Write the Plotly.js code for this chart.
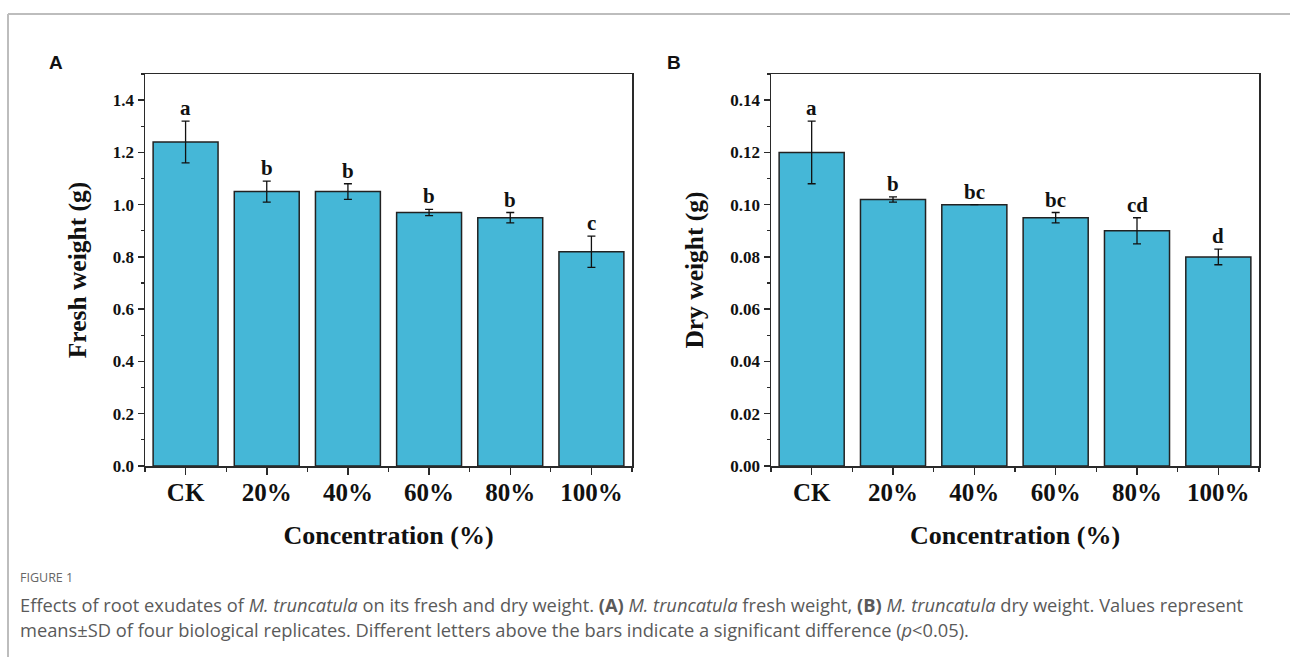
<!DOCTYPE html>
<html>
<head>
<meta charset="utf-8">
<script src="https://cdn.plot.ly/plotly-3.0.1.min.js"></script>
<style>html,body{margin:0;padding:0;background:#fff;}#chart{width:1290px;height:657px;}</style>
</head>
<body>
<div id="chart"></div>
<script>
const categories = ["CK", "20%", "40%", "60%", "80%", "100%"];
const freshMean = [1.24, 1.05, 1.05, 0.97, 0.95, 0.82];
const freshSD = [0.08, 0.04, 0.03, 0.012, 0.02, 0.06];
const freshLetters = ["a", "b", "b", "b", "b", "c"];
const dryMean = [0.120, 0.102, 0.100, 0.095, 0.090, 0.080];
const drySD = [0.012, 0.001, 0.0, 0.002, 0.005, 0.003];
const dryLetters = ["a", "b", "bc", "bc", "cd", "d"];
const freshTicks = [0.0, 0.2, 0.4, 0.6, 0.8, 1.0, 1.2, 1.4];
const dryTicks = [0.00, 0.02, 0.04, 0.06, 0.08, 0.10, 0.12, 0.14];

const xIdx = categories.map((c, i) => i);
const serif = "Liberation Serif, Times New Roman, serif";
const barColor = "#45B7D7";
const axisColor = "#2a2a2a";

function barTrace(y, sd, xa, ya) {
  return {
    type: "bar", x: xIdx, y: y, xaxis: xa, yaxis: ya,
    width: 0.8,
    marker: {color: barColor, line: {color: "#222", width: 1.5}},
    error_y: {type: "data", array: sd, visible: true, color: "#111", thickness: 1.3, width: 4},
    hoverinfo: "skip", showlegend: false
  };
}

function xAxis(domain, anchor) {
  return {
    domain: domain, anchor: anchor, range: [-0.5, 5.5],
    tickvals: xIdx, ticktext: categories,
    ticks: "outside", ticklen: 7, tickwidth: 1.5, tickcolor: axisColor,
    ticklabelstandoff: -4,
    minor: {dtick: 0.5, tick0: -0.5, ticks: "outside", ticklen: 4, tickwidth: 1.2, tickcolor: axisColor},
    showline: true, linecolor: axisColor, linewidth: 1.5, mirror: true,
    showgrid: false, zeroline: false, fixedrange: true,
    tickfont: {family: serif, size: 25, color: "#111", weight: "bold"},
    title: {text: "<b>Concentration (%)</b>", font: {family: serif, size: 26, color: "#111"}, standoff: 21}
  };
}

function yAxis(domain, anchor, range, ticks, fmt, title) {
  return {
    domain: domain, anchor: anchor, range: range,
    tickvals: ticks, tickformat: fmt,
    ticks: "outside", ticklen: 6, tickwidth: 1.5, tickcolor: axisColor,
    minor: {dtick: (ticks[1] - ticks[0]) / 2, ticks: "outside", ticklen: 3, tickwidth: 1.2, tickcolor: axisColor},
    showline: true, linecolor: axisColor, linewidth: 1.5, mirror: true,
    showgrid: false, zeroline: false, fixedrange: true,
    tickfont: {family: serif, size: 17, color: "#111", weight: "bold"},
    title: {text: "<b>" + title + "</b>", font: {family: serif, size: 25.5, color: "#111"}, standoff: 19}
  };
}

const annotations = [];
freshMean.forEach((m, i) => annotations.push({
  xref: "x", yref: "y", x: i, y: m + freshSD[i], text: "<b>" + freshLetters[i] + "</b>",
  showarrow: false, yanchor: "bottom", yshift: -1,
  font: {family: serif, size: 21, color: "#111"}
}));
dryMean.forEach((m, i) => annotations.push({
  xref: "x2", yref: "y2", x: i, y: m + drySD[i], text: "<b>" + dryLetters[i] + "</b>",
  showarrow: false, yanchor: "bottom", yshift: -1,
  font: {family: serif, size: 21, color: "#111"}
}));
annotations.push({xref: "paper", yref: "paper", x: 47 / 1290, y: 1 - 62 / 657, xanchor: "left", yanchor: "middle",
  text: "<b>A</b>", showarrow: false, font: {family: "Liberation Sans, Arial, sans-serif", size: 19, color: "#111"}});
annotations.push({xref: "paper", yref: "paper", x: 665 / 1290, y: 1 - 62 / 657, xanchor: "left", yanchor: "middle",
  text: "<b>B</b>", showarrow: false, font: {family: "Liberation Sans, Arial, sans-serif", size: 19, color: "#111"}});
const capFont = "Open Sans, Noto Sans, sans-serif";
annotations.push({xref: "paper", yref: "paper", x: 18 / 1290, y: 1 - 577 / 657, xanchor: "left", yanchor: "middle",
  text: "FIGURE 1", showarrow: false, font: {family: capFont, size: 12.5, color: "#666"}});
annotations.push({xref: "paper", yref: "paper", x: 18 / 1290, y: 1 - 604 / 657, xanchor: "left", yanchor: "middle",
  text: "Effects of root exudates of <i>M. truncatula</i> on its fresh and dry weight. <b>(A)</b> <i>M. truncatula</i> fresh weight, <b>(B)</b> <i>M. truncatula</i> dry weight. Values represent",
  showarrow: false, font: {family: capFont, size: 18.3, color: "#5a5a5a"}});
annotations.push({xref: "paper", yref: "paper", x: 18 / 1290, y: 1 - 629 / 657, xanchor: "left", yanchor: "middle",
  text: "means±SD of four biological replicates. Different letters above the bars indicate a significant difference (<i>p</i><0.05).",
  showarrow: false, font: {family: capFont, size: 18.3, color: "#5a5a5a"}});

const yDom = [1 - 466 / 657, 1 - 74 / 657];
const layout = {
  width: 1290, height: 657,
  margin: {l: 0, r: 0, t: 0, b: 0},
  paper_bgcolor: "#fff", plot_bgcolor: "#fff",
  bargap: 0.2,
  xaxis: xAxis([145 / 1290, 632 / 1290], "y"),
  yaxis: yAxis(yDom, "x", [0, 1.5], freshTicks, ".1f", "Fresh weight (g)"),
  xaxis2: xAxis([771 / 1290, 1259 / 1290], "y2"),
  yaxis2: yAxis(yDom, "x2", [0, 0.15], dryTicks, ".2f", "Dry weight (g)"),
  annotations: annotations,
  shapes: [
    {type: "line", xref: "paper", yref: "paper", x0: 8 / 1290, x1: 1, y0: 1 - 14 / 657, y1: 1 - 14 / 657, line: {color: "#bdbdbd", width: 2}},
    {type: "line", xref: "paper", yref: "paper", x0: 8 / 1290, x1: 8 / 1290, y0: 1 - 14 / 657, y1: 0, line: {color: "#bdbdbd", width: 2}}
  ]
};

Plotly.newPlot("chart", [
  barTrace(freshMean, freshSD, "x", "y"),
  barTrace(dryMean, drySD, "x2", "y2")
], layout, {displayModeBar: false, staticPlot: true});
</script>
</body>
</html>
